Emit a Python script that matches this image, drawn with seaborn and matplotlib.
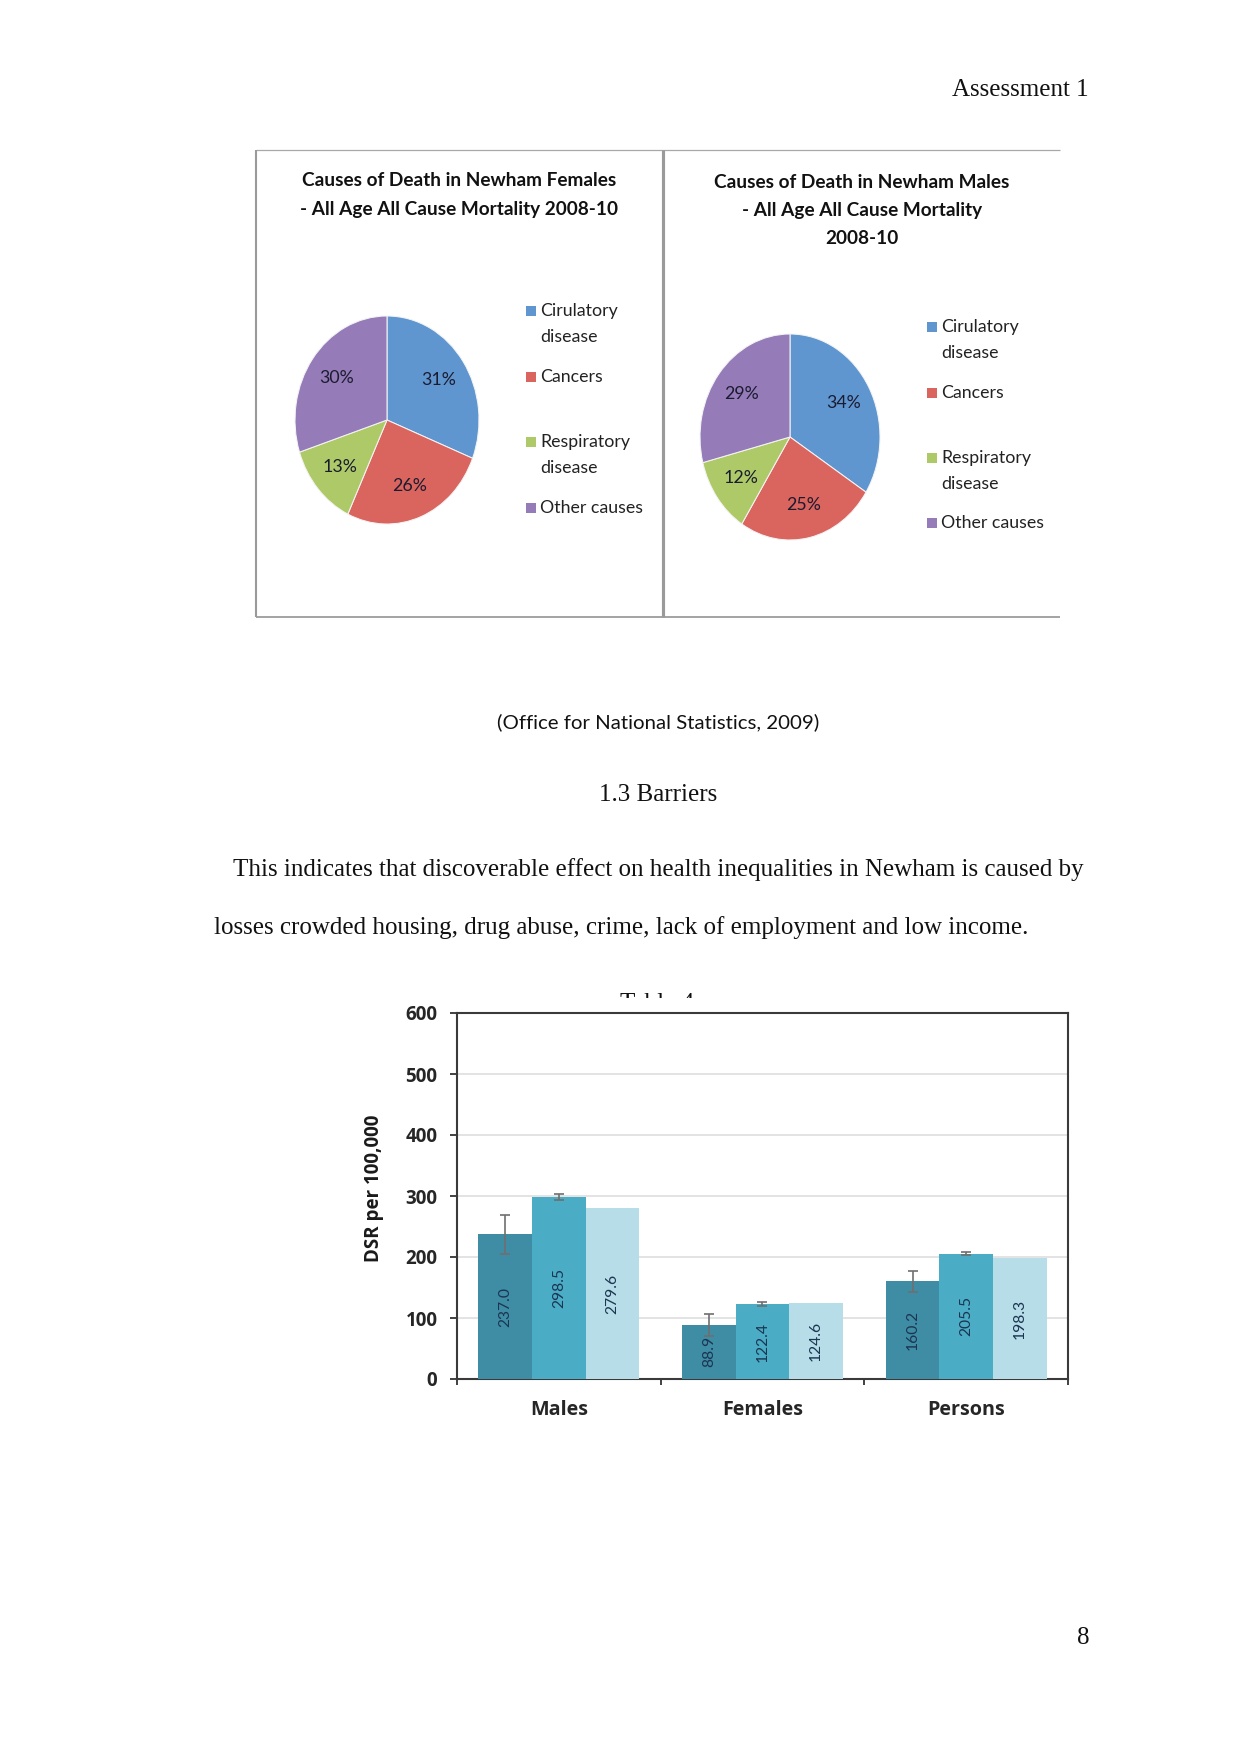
import matplotlib
matplotlib.use("Agg")
import matplotlib.pyplot as plt
from matplotlib.lines import Line2D
from matplotlib.patches import Rectangle
import seaborn as sns
import pandas as pd
import numpy as np

# ---------------- data ----------------
pie_labels = ["Cirulatory\ndisease", "Cancers", "Respiratory\ndisease", "Other causes"]
females_pct = [31, 26, 13, 30]
males_pct = [34, 25, 12, 29]
pie_colors = ["#6096d0", "#da645e", "#aeca68", "#957cb8"]

groups = ["Males", "Females", "Persons"]
series = ["Newham", "London", "England"]
newham = [237.0, 88.9, 160.2]
london = [298.5, 122.4, 205.5]
england = [279.6, 124.6, 198.3]
newham_lo = [205.0, 71.0, 143.0]
newham_hi = [269.0, 107.0, 177.0]
london_lo = [293.5, 119.5, 202.5]
london_hi = [303.5, 125.5, 208.5]
bar_colors = ["#3f8ca5", "#4bacc6", "#b7dde8"]
yticks = [0, 100, 200, 300, 400, 500, 600]

# ---------------- figure ----------------
sns.set_style("white")
SANS = ["Lato", "DejaVu Sans"]
HEAVY = ["Open Sans", "DejaVu Sans"]
SERIF = ["Liberation Serif", "DejaVu Serif"]
plt.rcParams["font.family"] = SANS

W, H = 1241, 1754
fig = plt.figure(figsize=(W / 150, H / 150), dpi=150)
fig.patch.set_facecolor("white")

def fx(x):
    return x / W

def fy(y):
    return 1 - y / H

# ---------------- page text ----------------
fig.text(fx(1089), fy(90), "Assessment 1", ha="right", va="center",
         family=SERIF, fontsize=12, color="#111111")
fig.text(fx(658), fy(722), "(Office for National Statistics, 2009)", ha="center",
         va="center", family=SANS, fontsize=9.8, color="#111111")
fig.text(fx(658), fy(795), "1.3 Barriers", ha="center", va="center",
         family=SERIF, fontsize=12, color="#111111")
fig.text(fx(233), fy(870),
         "This indicates that discoverable effect on health inequalities in Newham is caused by",
         ha="left", va="center", family=SERIF, fontsize=12, color="#111111")
fig.text(fx(214), fy(928),
         "losses crowded housing, drug abuse, crime, lack of employment and low income.",
         ha="left", va="center", family=SERIF, fontsize=12, color="#111111")
fig.text(fx(1089), fy(1638), "8", ha="right", va="center",
         family=SERIF, fontsize=12, color="#111111")

# partially hidden caption behind the bar chart picture
fig.text(fx(657), fy(993), "Table 4", ha="center", va="top",
         family=SERIF, fontsize=12, color="#111111", zorder=2)
fig.add_artist(Rectangle((fx(300), fy(1432)), fx(1100) - fx(300), fy(998) - fy(1432),
                         transform=fig.transFigure, facecolor="white",
                         edgecolor="none", zorder=4))

# ---------------- pie panel frames ----------------
def fline(x0, y0, x1, y1, lw, color):
    fig.add_artist(Line2D([fx(x0), fx(x1)], [fy(y0), fy(y1)],
                          transform=fig.transFigure, lw=lw, color=color,
                          solid_capstyle="butt"))

fline(256, 150, 1060, 150, 0.6, "#a8a8a8")
fline(256, 617, 1060, 617, 0.9, "#a0a0a0")
fline(256, 150, 256, 617, 1.0, "#9a9a9a")
fline(662.5, 150, 662.5, 617, 1.5, "#9a9a9a")

# ---------------- pies ----------------
def draw_pie(cx, cy, rx, ry, values, title_lines, title_x, title_y0, leg_x, leg_ys):
    ax = fig.add_axes([fx(cx - rx), fy(cy + ry), 2 * rx / W, 2 * ry / H])
    ax.pie(values, colors=pie_colors, startangle=90, counterclock=False,
           autopct="%1.0f%%", pctdistance=0.68,
           wedgeprops=dict(edgecolor="#f4f4f4", linewidth=0.5),
           textprops=dict(family=SANS, fontsize=8.5, color="#1b1b30"))
    ax.set_xlim(-1, 1)
    ax.set_ylim(-1, 1)
    ax.set_aspect("auto")
    for i, line in enumerate(title_lines):
        fig.text(fx(title_x), fy(title_y0 + i * 28.5), line, ha="center", va="center",
                 family=SANS, fontsize=9.1, fontweight="bold", color="#111111")
    # legend
    for lab, col, y in zip(pie_labels, pie_colors, leg_ys):
        fig.add_artist(Rectangle((fx(leg_x), fy(y + 5)), 10 / W, 10 / H,
                                 transform=fig.transFigure, facecolor=col,
                                 edgecolor="none"))
        for j, part in enumerate(lab.split("\n")):
            fig.text(fx(leg_x + 14), fy(y + j * 26), part, ha="left", va="center",
                     family=SANS, fontsize=8.5, color="#222222")

draw_pie(387, 420, 92, 104, females_pct,
         ["Causes of Death in Newham Females", "- All Age All Cause Mortality 2008-10"],
         459, 181, 526, [311, 377, 442, 508])
draw_pie(790, 437, 90, 103, males_pct,
         ["Causes of Death in Newham Males", "- All Age All Cause Mortality", "2008-10"],
         862, 182, 927, [327, 393, 458, 523])

# ---------------- bar chart ----------------
df = pd.DataFrame({
    "group": groups * 3,
    "series": [series[0]] * 3 + [series[1]] * 3 + [series[2]] * 3,
    "value": newham + london + england,
})

L, R, T, B = 457, 1068, 1013, 1379
bax = fig.add_axes([fx(L), fy(B), (R - L) / W, (B - T) / H], zorder=5)
sns.barplot(data=df, x="group", y="value", hue="series", order=groups,
            hue_order=series, palette=bar_colors, width=0.79, errorbar=None,
            saturation=1, legend=False, ax=bax, zorder=3)
for p in bax.patches:
    p.set_edgecolor("none")

bax.set_ylim(0, 600)
bax.set_xlim(-0.5, 2.5)
bax.set_yticks(yticks)
bax.set_yticklabels([str(v) for v in yticks], fontweight="bold", fontsize=9,
                    color="#262626", family=HEAVY)
bax.grid(axis="y", color="#dedede", lw=0.8, zorder=0)
bax.set_axisbelow(True)
for s in bax.spines.values():
    s.set_visible(True)
    s.set_color("#3a3a3a")
    s.set_linewidth(1.0)
bax.tick_params(axis="y", which="major", direction="out", length=3.4, width=0.9,
                color="#3a3a3a", pad=6, left=True)
bax.set_xticks([0, 1, 2])
bax.set_xticklabels(groups, fontweight="bold", fontsize=9.5, color="#262626", family=HEAVY)
bax.tick_params(axis="x", which="major", length=0, pad=10)
bax.set_xticks([-0.5, 0.5, 1.5, 2.5], minor=True)
bax.tick_params(axis="x", which="minor", direction="out", length=3, width=0.9,
                color="#3a3a3a", bottom=True)
bax.set_xlabel("")
bax.set_ylabel("DSR per 100,000", fontweight="bold", fontsize=9, color="#1a1a1a",
               family=HEAVY)
bax.yaxis.set_label_coords((384 - L) / (R - L), (B - 1188) / (B - T))

# value labels
for cont in bax.containers:
    bax.bar_label(cont, fmt="%.1f", label_type="center", rotation=90,
                  fontsize=7.5, color="#1c3550")

# error bars for first two series
for cont, lo, hi in zip(bax.containers[:2], [newham_lo, london_lo], [newham_hi, london_hi]):
    xs = [p.get_x() + p.get_width() / 2 for p in cont.patches]
    ys = np.array([p.get_height() for p in cont.patches])
    lo = np.array(lo)
    hi = np.array(hi)
    bax.errorbar(xs, ys, yerr=[ys - lo, hi - ys], fmt="none", ecolor="#6f6f6f",
                 elinewidth=0.8, capsize=2.6, capthick=0.8, zorder=4)

fig.savefig("out.png", dpi=150, facecolor="white")
